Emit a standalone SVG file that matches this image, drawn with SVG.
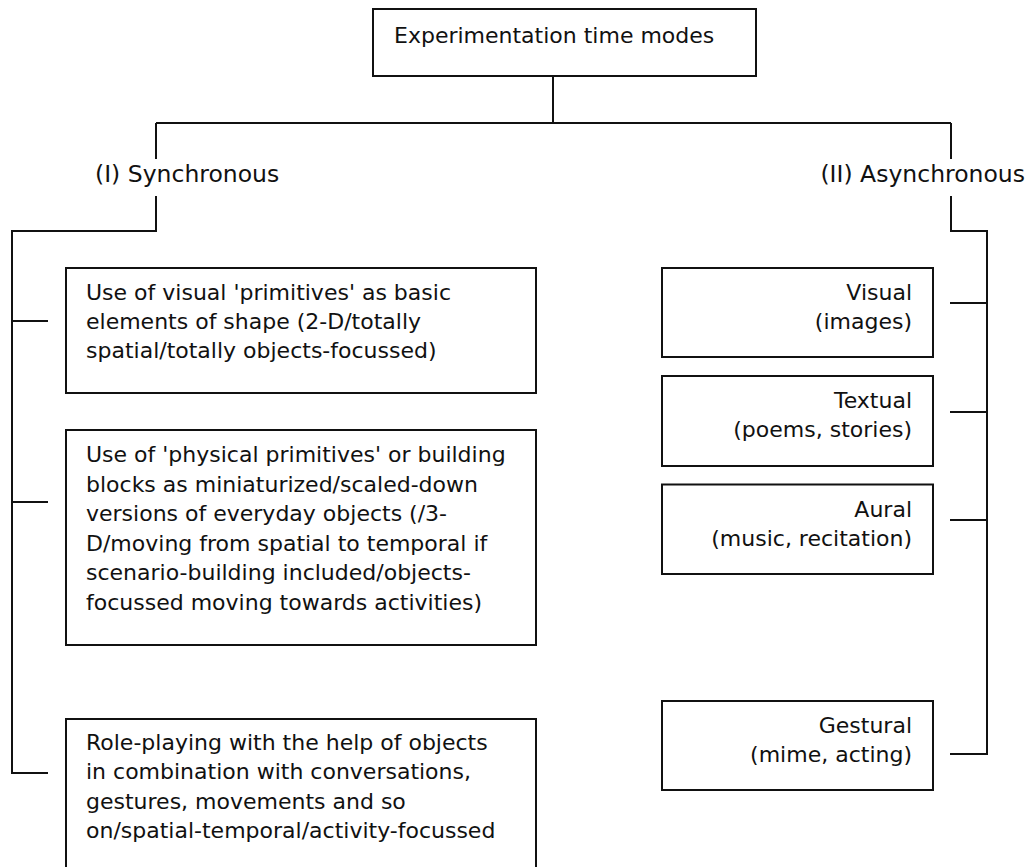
<svg xmlns="http://www.w3.org/2000/svg" width="1028" height="867" viewBox="0 0 1028 867">
<style>
.box{fill:#fff;stroke:#111;stroke-width:2}
.t{font-family:"DejaVu Sans","Liberation Sans",sans-serif;font-size:22px;fill:#111}
.h{font-family:"DejaVu Sans","Liberation Sans",sans-serif;font-size:23.5px;fill:#111}
.r{text-anchor:end}
.c{fill:none;stroke:#111;stroke-width:2}
</style>
<rect width="1028" height="867" fill="#fff"/>
<g id="connectors" class="c">
<path d="M553 76 V123"/>
<path d="M156 123 H951"/>
<path d="M156 123 V159"/>
<path d="M156 196 V231 H12 V773 H48"/>
<path d="M12 321 H48"/>
<path d="M12 502 H48"/>
<path d="M951 123 V159"/>
<path d="M951 196 V231 H987 V754 H950"/>
<path d="M950 303 H987"/>
<path d="M950 412 H987"/>
<path d="M950 520 H987"/>
</g>
<g id="root">
<rect class="box" x="373" y="9" width="383" height="67"/>
<text class="t" x="394" y="43">Experimentation time modes</text>
</g>
<g id="sync">
<text class="h" x="95" y="182">(I) Synchronous</text>
</g>
<g id="async">
<text class="h r" x="1025" y="182">(II) Asynchronous</text>
</g>
<g id="s1">
<rect class="box" x="66" y="268" width="470" height="125"/>
<text class="t" x="86" y="300">Use of visual 'primitives' as basic</text>
<text class="t" x="86" y="329">elements of shape (2-D/totally</text>
<text class="t" x="86" y="358">spatial/totally objects-focussed)</text>
</g>
<g id="s2">
<rect class="box" x="66" y="430" width="470" height="215"/>
<text class="t" x="86" y="462">Use of 'physical primitives' or building</text>
<text class="t" x="86" y="491.5">blocks as miniaturized/scaled-down</text>
<text class="t" x="86" y="521">versions of everyday objects (/3-</text>
<text class="t" x="86" y="550.5">D/moving from spatial to temporal if</text>
<text class="t" x="86" y="580">scenario-building included/objects-</text>
<text class="t" x="86" y="609.5">focussed moving towards activities)</text>
</g>
<g id="s3">
<rect class="box" x="66" y="719" width="470" height="170"/>
<text class="t" x="86" y="750">Role-playing with the help of objects</text>
<text class="t" x="86" y="779.3">in combination with conversations,</text>
<text class="t" x="86" y="808.6">gestures, movements and so</text>
<text class="t" x="86" y="838">on/spatial-temporal/activity-focussed</text>
</g>
<g id="a1">
<rect class="box" x="662" y="268" width="271" height="89"/>
<text class="t r" x="912" y="300">Visual</text>
<text class="t r" x="912" y="329">(images)</text>
</g>
<g id="a2">
<rect class="box" x="662" y="376" width="271" height="90"/>
<text class="t r" x="912" y="408">Textual</text>
<text class="t r" x="912" y="437">(poems, stories)</text>
</g>
<g id="a3">
<rect class="box" x="662" y="484.5" width="271" height="89.5"/>
<text class="t r" x="912" y="516.7">Aural</text>
<text class="t r" x="912" y="545.7">(music, recitation)</text>
</g>
<g id="a4">
<rect class="box" x="662" y="701" width="271" height="89"/>
<text class="t r" x="912" y="733">Gestural</text>
<text class="t r" x="912" y="762">(mime, acting)</text>
</g>
</svg>
